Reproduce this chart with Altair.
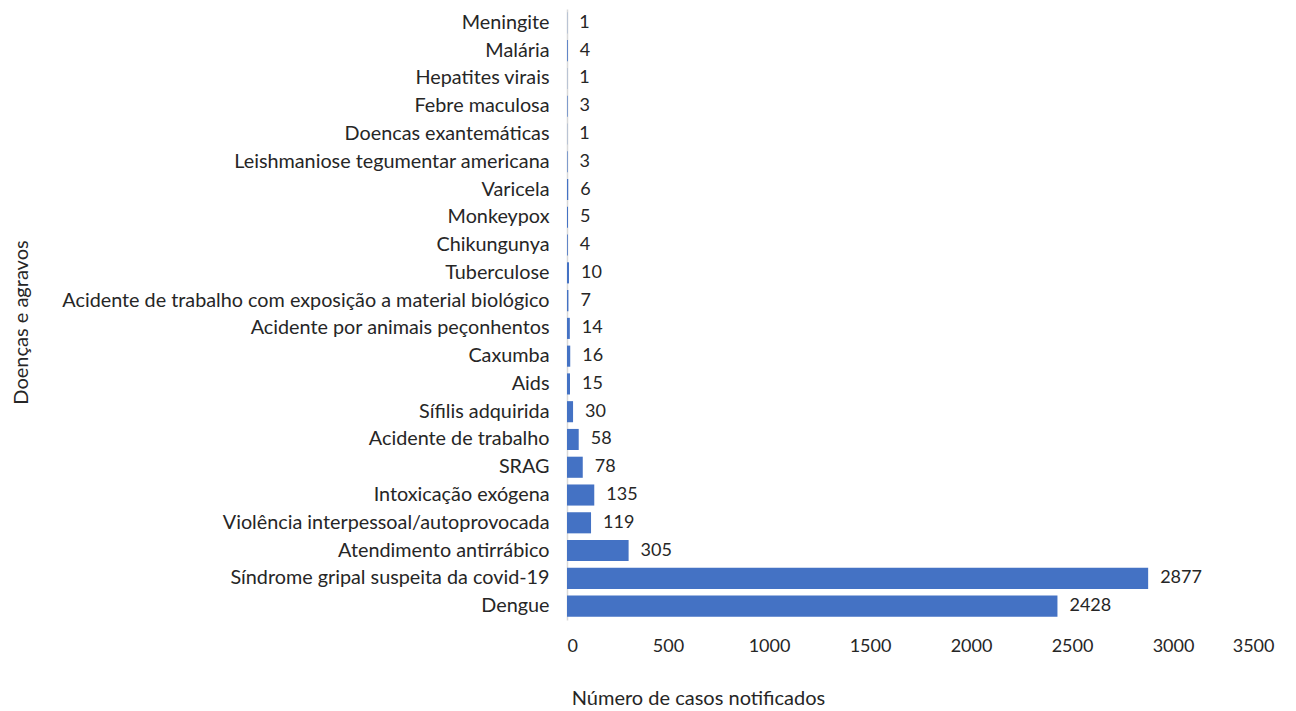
import altair as alt
import pandas as pd

categories = [
    "Meningite", "Malária", "Hepatites virais", "Febre maculosa", "Doencas exantemáticas",
    "Leishmaniose tegumentar americana", "Varicela", "Monkeypox", "Chikungunya", "Tuberculose",
    "Acidente de trabalho com exposição a material biológico", "Acidente por animais peçonhentos",
    "Caxumba", "Aids", "Sífilis adquirida", "Acidente de trabalho", "SRAG",
    "Intoxicação exógena", "Violência interpessoal/autoprovocada", "Atendimento antirrábico",
    "Síndrome gripal suspeita da covid-19", "Dengue",
]
values = [1, 4, 1, 3, 1, 3, 6, 5, 4, 10, 7, 14, 16, 15, 30, 58, 78, 135, 119, 305, 2877, 2428]
x_ticks = [0, 500, 1000, 1500, 2000, 2500, 3000, 3500]

df = pd.DataFrame({"cat": categories, "val": values})

FONT = "Lato"
TXT = "#262626"
W, H = 707, 611

base = alt.Chart(df).encode(
    y=alt.Y("cat:N", sort=categories,
            scale=alt.Scale(paddingInner=0.24, paddingOuter=0.12),
            axis=alt.Axis(title="Doenças e agravos", ticks=False, labelPadding=18,
                          labelFontSize=19.8, labelFont=FONT, labelColor=TXT,
                          domainColor="#d9d9d9", domainWidth=1.5,
                          titleFont=FONT, titleFontSize=20, titleFontWeight="normal",
                          titleColor=TXT, titleAngle=-90, titleX=-546, titleY=313,
                          titleAlign="center", titleBaseline="middle", labelLimit=700)),
)

bars = base.mark_bar(color="#4472C4").encode(
    x=alt.X("val:Q", scale=alt.Scale(domain=[0, 3500], nice=False),
            axis=alt.Axis(values=x_ticks, format="d", title="Número de casos notificados",
                          grid=False, ticks=False, domain=False, labelPadding=17,
                          labelFontSize=18, labelFont=FONT, labelColor=TXT,
                          titleFont=FONT, titleFontSize=20, titleFontWeight="normal",
                          titleColor=TXT, titleX=131, titleY=78, titleAlign="center",
                          titleBaseline="middle")),
)

labels = base.mark_text(align="left", baseline="middle", dx=12, fontSize=18,
                        font=FONT, color=TXT).encode(
    x=alt.X("val:Q"),
    text=alt.Text("val:Q", format="d"),
)

chart = (bars + labels).properties(
    width=W, height=H,
    autosize=alt.AutoSizeParams(type="none"),
    padding={"left": 559, "top": 1, "right": 10, "bottom": 90},
).configure(background="white").configure_view(strokeWidth=0)

chart.save("out.html", embed_options={"renderer": "svg", "actions": False})
